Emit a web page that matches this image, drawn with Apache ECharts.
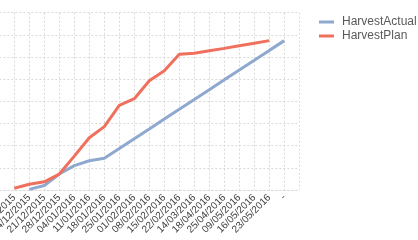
<!DOCTYPE html>
<html><head><meta charset="utf-8">
<script src="https://cdn.jsdelivr.net/npm/echarts@6/dist/echarts.min.js"></script>
<style>html,body{margin:0;padding:0;background:#fff}#c{width:418px;height:240px}</style>
</head><body><div id="c"></div>
<script>
const weeks = ["07/12/2015","14/12/2015","21/12/2015","28/12/2015","04/01/2016","11/01/2016","18/01/2016","25/01/2016","01/02/2016","08/02/2016","15/02/2016","22/02/2016","14/03/2016","18/04/2016","25/04/2016","09/05/2016","16/05/2016","23/05/2016","-"];
const harvestActual = [null,0.03,0.2,0.72,1.1,1.32,1.43,1.87,2.31,2.75,3.2,3.64,4.08,4.52,4.97,5.41,5.85,6.3,6.74];
const harvestPlan = [0.08,0.26,0.37,0.72,1.53,2.36,2.86,3.82,4.12,4.93,5.38,6.13,6.17,6.28,6.39,6.51,6.62,6.74,null];
const yTicks = [0,1,2,3,4,5,6,7,8];

const chart = echarts.init(document.getElementById('c'), null, {renderer:'canvas'});
const toPts = arr => arr.map((v,i)=> v==null ? [i,null] : [i,v]);
chart.setOption({
  animation:false,
  textStyle:{fontFamily:'Liberation Sans, Arial, sans-serif'},
  grid:{left:-0.7, right:118.7, top:12.7, bottom:50, containLabel:false, outerBoundsMode:'none'},
  legend:{
    orient:'vertical', left:319, top:16, itemWidth:15, itemHeight:3, itemGap:2, padding:0,
    icon:'rect',
    textStyle:{fontSize:12, color:'#595959', lineHeight:12, padding:[0,0,0,3], overflow:'none'},
    data:['HarvestActual','HarvestPlan']
  },
  xAxis:{
    type:'value', min:-1, max:19, interval:1,
    axisLine:{show:true, lineStyle:{color:'#d9d9d9', type:[2,2], width:1}},
    axisTick:{show:false},
    splitLine:{show:true, lineStyle:{color:'#d9d9d9', type:[2,2], width:1}},
    axisLabel:{
      rotate:45, margin:6, fontSize:10, color:'#404040',
      showMinLabel:true, showMaxLabel:true, hideOverlap:false,
      formatter:v=> (v>=0 && v<weeks.length) ? weeks[v] : ''
    }
  },
  yAxis:{
    type:'value', min:yTicks[0], max:yTicks[yTicks.length-1], interval:1,
    axisLine:{show:false}, axisTick:{show:false}, axisLabel:{show:false},
    splitLine:{show:true, lineStyle:{color:'#d9d9d9', type:[2,2], width:1}}
  },
  series:[
    {name:'HarvestActual', type:'line', data:toPts(harvestActual), showSymbol:false, symbol:'none',
     lineStyle:{color:'#8FA8CF', width:3}, itemStyle:{color:'#8FA8CF'}},
    {name:'HarvestPlan', type:'line', data:toPts(harvestPlan), showSymbol:false, symbol:'none',
     lineStyle:{color:'#F0705E', width:3}, itemStyle:{color:'#F0705E'}}
  ]
});
</script></body></html>
